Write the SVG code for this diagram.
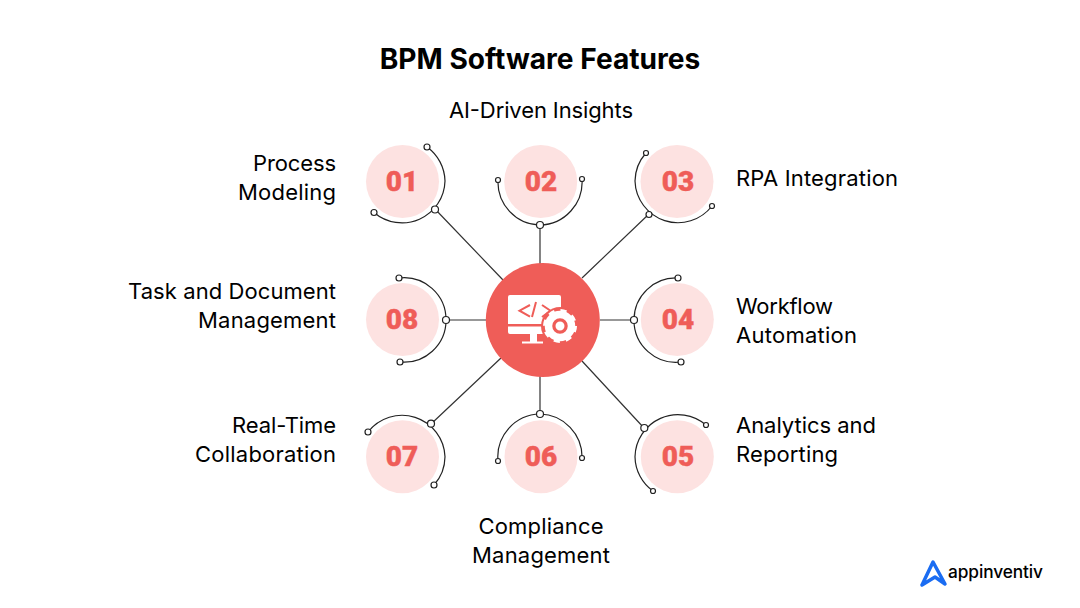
<svg xmlns="http://www.w3.org/2000/svg" width="1080" height="608" viewBox="0 0 1080 608">
<style>
text{font-family:"Inter","Liberation Sans",sans-serif;fill:#000}
.title{font-size:28.100px;font-weight:700;font-family:"Inter","Liberation Sans",sans-serif}
.lb{font-size:22px}
.r{text-anchor:end}.m{text-anchor:middle}
.num{font-family:"Roboto","Liberation Sans",sans-serif;font-weight:900;font-size:28px;fill:#ef5d58;stroke:#ef5d58;stroke-width:.4;text-anchor:middle}
.disc{fill:#fde2e1}
.arc{fill:none;stroke:#222;stroke-width:1.2}
.dot{fill:#fff;stroke:#222;stroke-width:1.2}
.ln{stroke:#333;stroke-width:1.2;fill:none}
</style>
<rect width="1080" height="608" fill="#fff"/>
<text class="title m" x="540" y="68.500">BPM Software Features</text>
<g id="connectors">
<path class="ln" d="M435 209L503 280M540 225V266M649 214L582 278M446 320H488M600 320H634M644 428L582 361M540 375V414M431 424L501 358"/>
</g>
<g id="hub">
<circle cx="542.800" cy="320" r="57" fill="#ef5d58"/>
<path fill="#fff" d="M510 295H559a2 2 0 0 1 2 2V324H508V297a2 2 0 0 1 2-2ZM508 326.500H561V332a2 2 0 0 1-2 2H510a2 2 0 0 1-2-2ZM530 334H537V341.500H543V343.500H522V341.500H530Z"/>
<path fill="none" stroke="#ef5d58" stroke-width="2" d="M530 305L519.500 310.700L530 316.700M536 302L532 317M542 305L550.500 310.700L542 317"/>
<circle cx="560" cy="326" r="19" fill="#ef5d58"/>
<circle cx="560" cy="326" r="11.500" fill="none" stroke="#fff" stroke-width="7.500"/>
<circle cx="560" cy="326" r="14.500" fill="none" stroke="#fff" stroke-width="5" stroke-dasharray="5.700 5.690"/>
<circle cx="560" cy="326" r="5.500" fill="#fff" stroke="#ef5d58" stroke-width="2"/>
</g>
<g id="node-01">
<circle class="disc" cx="402.500" cy="181.500" r="36.500"/>
<path class="arc" d="M427 147A43 43 0 0 1 445 181A43 43 0 0 1 374 212.500"/>
<circle class="dot" cx="427" cy="147" r="3"/><circle class="dot" cx="374" cy="212.500" r="3"/><circle class="dot" cx="435" cy="209.500" r="3.500"/>
<text class="num" x="402" y="191">01</text>
<text class="lb r" x="336" y="171" textLength="83">Process</text><text class="lb r" x="336" y="200" textLength="98">Modeling</text>
</g>
<g id="node-02">
<circle class="disc" cx="540.700" cy="181.500" r="36.500"/>
<path class="arc" d="M498 180A43 43 0 0 0 540 225A43 43 0 0 0 582 179"/>
<circle class="dot" cx="498" cy="180" r="2.500"/><circle class="dot" cx="582" cy="179" r="2.500"/><circle class="dot" cx="540" cy="225" r="3.500"/>
<text class="num" x="541" y="191">02</text>
<text class="lb m" x="541" y="118" textLength="184">AI-Driven Insights</text>
</g>
<g id="node-03">
<circle class="disc" cx="677" cy="181.500" r="36.500"/>
<path class="arc" d="M646 153A43 43 0 0 0 635 181A43 43 0 0 0 712 206"/>
<circle class="dot" cx="646" cy="153" r="2.500"/><circle class="dot" cx="712" cy="206" r="2.500"/><circle class="dot" cx="649" cy="214.500" r="3"/>
<text class="num" x="678" y="191">03</text>
<text class="lb" x="736" y="186" textLength="162">RPA Integration</text>
</g>
<g id="node-04">
<circle class="disc" cx="677.300" cy="319.500" r="36.500"/>
<path class="arc" d="M678 278A42 42 0 0 0 634 320A42 42 0 0 0 681 362"/>
<circle class="dot" cx="678" cy="278" r="3"/><circle class="dot" cx="681" cy="362" r="3"/><circle class="dot" cx="634" cy="320" r="3.500"/>
<text class="num" x="678" y="329">04</text>
<text class="lb" x="736" y="314" textLength="97">Workflow</text><text class="lb" x="736" y="343" textLength="121">Automation</text>
</g>
<g id="node-05">
<circle class="disc" cx="677.300" cy="456.700" r="36.500"/>
<path class="arc" d="M706 425A43 43 0 0 0 635 456.700A43 43 0 0 0 653 491"/>
<circle class="dot" cx="706" cy="425" r="2.500"/><circle class="dot" cx="653" cy="491" r="2.500"/><circle class="dot" cx="644.300" cy="428" r="3.500"/>
<text class="num" x="678" y="466">05</text>
<text class="lb" x="736" y="433" textLength="140">Analytics and</text><text class="lb" x="736" y="462" textLength="102">Reporting</text>
</g>
<g id="node-06">
<circle class="disc" cx="541" cy="456.700" r="36.500"/>
<path class="arc" d="M498 461A43 43 0 0 1 540 414A43 43 0 0 1 582 458"/>
<circle class="dot" cx="498" cy="461" r="2.500"/><circle class="dot" cx="582" cy="458" r="2.500"/><circle class="dot" cx="540" cy="414" r="3.500"/>
<text class="num" x="541" y="466">06</text>
<text class="lb m" x="541" y="534" textLength="125">Compliance</text><text class="lb m" x="541" y="563" textLength="138">Management</text>
</g>
<g id="node-07">
<circle class="disc" cx="402.500" cy="456.700" r="36.500"/>
<path class="arc" d="M368 432A43 43 0 0 1 445 456.700A43 43 0 0 1 434 485"/>
<circle class="dot" cx="368" cy="432" r="3"/><circle class="dot" cx="434" cy="485" r="3"/><circle class="dot" cx="431" cy="423.700" r="3.500"/>
<text class="num" x="402" y="466">07</text>
<text class="lb r" x="336" y="433" textLength="104">Real-Time</text><text class="lb r" x="336" y="462" textLength="141">Collaboration</text>
</g>
<g id="node-08">
<circle class="disc" cx="402.500" cy="319.500" r="36.500"/>
<path class="arc" d="M399 278A42 42 0 0 1 446 320A42 42 0 0 1 400 362"/>
<circle class="dot" cx="399" cy="278" r="3"/><circle class="dot" cx="400" cy="362" r="3"/><circle class="dot" cx="446" cy="320" r="3.500"/>
<text class="num" x="402" y="329">08</text>
<text class="lb r" x="336" y="299" textLength="208">Task and Document</text><text class="lb r" x="336" y="328" textLength="138">Management</text>
</g>
<g id="logo">
<path fill="none" stroke="#1a6cf2" stroke-width="3.500" stroke-linejoin="round" stroke-linecap="round" d="M922 585L933 562L945 584L935 577L922 585"/>
<text x="948" y="578" style="font-family:'Inter','Liberation Sans',sans-serif;font-size:17.300px;font-weight:500" textLength="95">appinventiv</text>
</g>
</svg>
